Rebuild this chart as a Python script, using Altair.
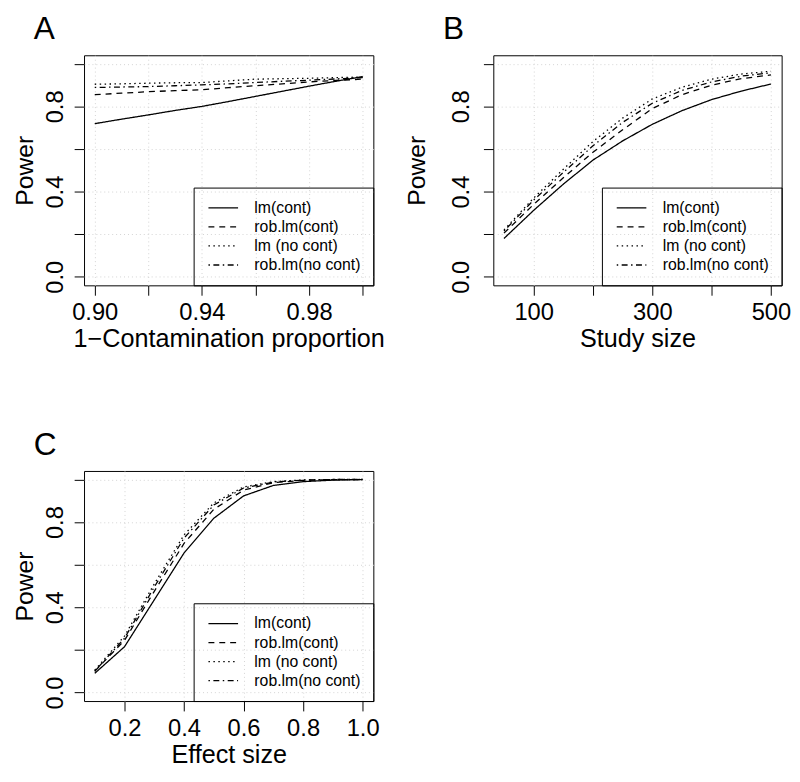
import altair as alt
import pandas as pd

FONT = "Liberation Sans"
SERIES = ["lm(cont)", "rob.lm(cont)", "lm (no cont)", "rob.lm(no cont)"]
DASHES = [[1, 0], [6, 5], [1.5, 3.5], [1.5, 3.5, 6, 3.5]]

# ---- Panel A: 1-Contamination proportion ----
a_x = [0.90, 0.91, 0.92, 0.93, 0.94, 0.95, 0.96, 0.97, 0.98, 0.99, 1.00]
a_lm_cont = [0.719, 0.740, 0.760, 0.781, 0.800, 0.823, 0.847, 0.871, 0.895, 0.918, 0.940]
a_rob_cont = [0.855, 0.862, 0.869, 0.874, 0.878, 0.888, 0.897, 0.906, 0.915, 0.922, 0.928]
a_lm_nocont = [0.904, 0.906, 0.909, 0.911, 0.912, 0.920, 0.928, 0.930, 0.932, 0.935, 0.938]
a_rob_nocont = [0.889, 0.891, 0.893, 0.897, 0.901, 0.906, 0.912, 0.918, 0.923, 0.929, 0.935]

# ---- Panel B: Study size ----
b_x = [50, 100, 150, 200, 250, 300, 350, 400, 450, 500]
b_lm_cont = [0.180, 0.312, 0.435, 0.548, 0.638, 0.716, 0.780, 0.832, 0.872, 0.905]
b_rob_cont = [0.205, 0.340, 0.465, 0.585, 0.690, 0.790, 0.855, 0.900, 0.930, 0.948]
b_lm_nocont = [0.220, 0.370, 0.505, 0.635, 0.745, 0.835, 0.890, 0.928, 0.952, 0.965]
b_rob_nocont = [0.215, 0.360, 0.490, 0.615, 0.725, 0.815, 0.875, 0.915, 0.942, 0.958]

# ---- Panel C: Effect size ----
c_x = [0.1, 0.2, 0.3, 0.4, 0.5, 0.6, 0.7, 0.8, 0.9, 1.0]
c_lm_cont = [0.090, 0.215, 0.435, 0.655, 0.818, 0.923, 0.972, 0.990, 0.997, 1.000]
c_rob_cont = [0.100, 0.245, 0.475, 0.700, 0.860, 0.950, 0.985, 0.996, 0.999, 1.000]
c_lm_nocont = [0.105, 0.265, 0.510, 0.740, 0.890, 0.965, 0.990, 0.998, 1.000, 1.000]
c_rob_nocont = [0.100, 0.255, 0.495, 0.725, 0.880, 0.960, 0.988, 0.997, 1.000, 1.000]

y_ticks = [0.0, 0.2, 0.4, 0.6, 0.8, 1.0]
y_labels = ["0.0", "0.4", "0.8"]


def long_df(xs, series_lists):
    rows = []
    for name, vals in zip(SERIES, series_lists):
        for xv, pv in zip(xs, vals):
            rows.append({"x": xv, "p": pv, "series": name})
    return pd.DataFrame(rows)


def shown(labels):
    arr = ",".join("'" + s + "'" for s in labels)
    return "indexof([" + arr + "], datum.label) >= 0 ? datum.label : ''"


def panel(df, xdom, xvals, xshown, xfmt, xtitle, letter, width, ylab_pad, ytitle_x):
    xaxis = alt.Axis(
        values=xvals, format=xfmt, labelExpr=shown(xshown), title=xtitle,
        grid=True, gridColor="#d3d3d3", gridDash=[1, 3], gridWidth=1,
        domain=False, ticks=True, tickSize=10, tickColor="black", tickWidth=1,
        labelFont=FONT, labelFontSize=24, labelColor="black", labelPadding=24.5,
        labelBaseline="alphabetic", labelFlush=False, labelOverlap=False,
        titleFont=FONT, titleFontSize=25.5, titleFontWeight="normal", titleColor="black",
        titleX=width / 2, titleY=62, titleBaseline="alphabetic", titleAlign="center",
    )
    yaxis = alt.Axis(
        values=y_ticks, format=".1f", labelExpr=shown(y_labels), title="Power",
        grid=True, gridColor="#d3d3d3", gridDash=[1, 3], gridWidth=1,
        domain=False, ticks=True, tickSize=10, tickColor="black", tickWidth=1,
        labelFont=FONT, labelFontSize=24, labelColor="black", labelPadding=ylab_pad,
        labelAngle=270, labelAlign="center", labelBaseline="alphabetic",
        labelFlush=False, labelOverlap=False,
        titleFont=FONT, titleFontSize=25, titleFontWeight="normal", titleColor="black",
        titleAngle=270, titleX=-ytitle_x, titleY=116.5, titleBaseline="middle",
        titleAlign="center",
    )
    legend = alt.Legend(
        title=None, orient="bottom-right", offset=0, padding=12,
        strokeColor="black", cornerRadius=0,
        symbolType="M-2,0L2,0", symbolSize=225, symbolStrokeWidth=1.3,
        symbolStrokeColor="black", symbolOffset=9.5, labelOffset=23,
        rowPadding=2.3, labelFont=FONT, labelFontSize=16, labelColor="black",
        labelLimit=300,
    )
    lines = alt.Chart(df).mark_line(color="black", strokeWidth=1.3, strokeCap="butt").encode(
        x=alt.X("x:Q", scale=alt.Scale(domain=xdom, nice=False, zero=False), axis=xaxis),
        y=alt.Y("p:Q", scale=alt.Scale(domain=[-0.04, 1.04], nice=False, zero=False), axis=yaxis),
        strokeDash=alt.StrokeDash(
            "series:N", sort=SERIES,
            scale=alt.Scale(domain=SERIES, range=DASHES), legend=legend,
        ),
    )
    tag = alt.Chart(pd.DataFrame({"letter": [letter]})).mark_text(
        font=FONT, fontSize=32, color="black", align="left", baseline="alphabetic"
    ).encode(text="letter:N", x=alt.value(-51), y=alt.value(-16.5))
    return alt.layer(lines, tag).properties(width=width, height=233)


dfA = long_df(a_x, [a_lm_cont, a_rob_cont, a_lm_nocont, a_rob_nocont])
dfB = long_df(b_x, [b_lm_cont, b_rob_cont, b_lm_nocont, b_rob_nocont])
dfC = long_df(c_x, [c_lm_cont, c_rob_cont, c_lm_nocont, c_rob_nocont])

A = panel(dfA, [0.896, 1.004], [0.90, 0.92, 0.94, 0.96, 0.98, 1.00], ["0.90", "0.94", "0.98"],
          ".2f", "1\u2212Contamination proportion", "A", 293, 12.3, 60.3)
B = panel(dfB, [32, 518], [100, 200, 300, 400, 500], ["100", "300", "500"],
          "d", "Study size", "B", 292, 15, 78)
C = panel(dfC, [0.064, 1.036], [0.2, 0.4, 0.6, 0.8, 1.0], ["0.2", "0.4", "0.6", "0.8", "1.0"],
          ".1f", "Effect size", "C", 293, 12.3, 60.3)

chart = alt.concat(
    A, B, C, columns=2, spacing={"row": 188, "column": 121.5}, bounds="flush"
).resolve_scale(
    x="independent", y="independent", strokeDash="independent"
).resolve_legend(strokeDash="independent").properties(
    padding={"left": 4, "top": 0, "right": 0, "bottom": 0}
).configure_view(stroke="black", strokeWidth=1)

chart.save("out.html", embed_options={"renderer": "svg", "actions": False})
